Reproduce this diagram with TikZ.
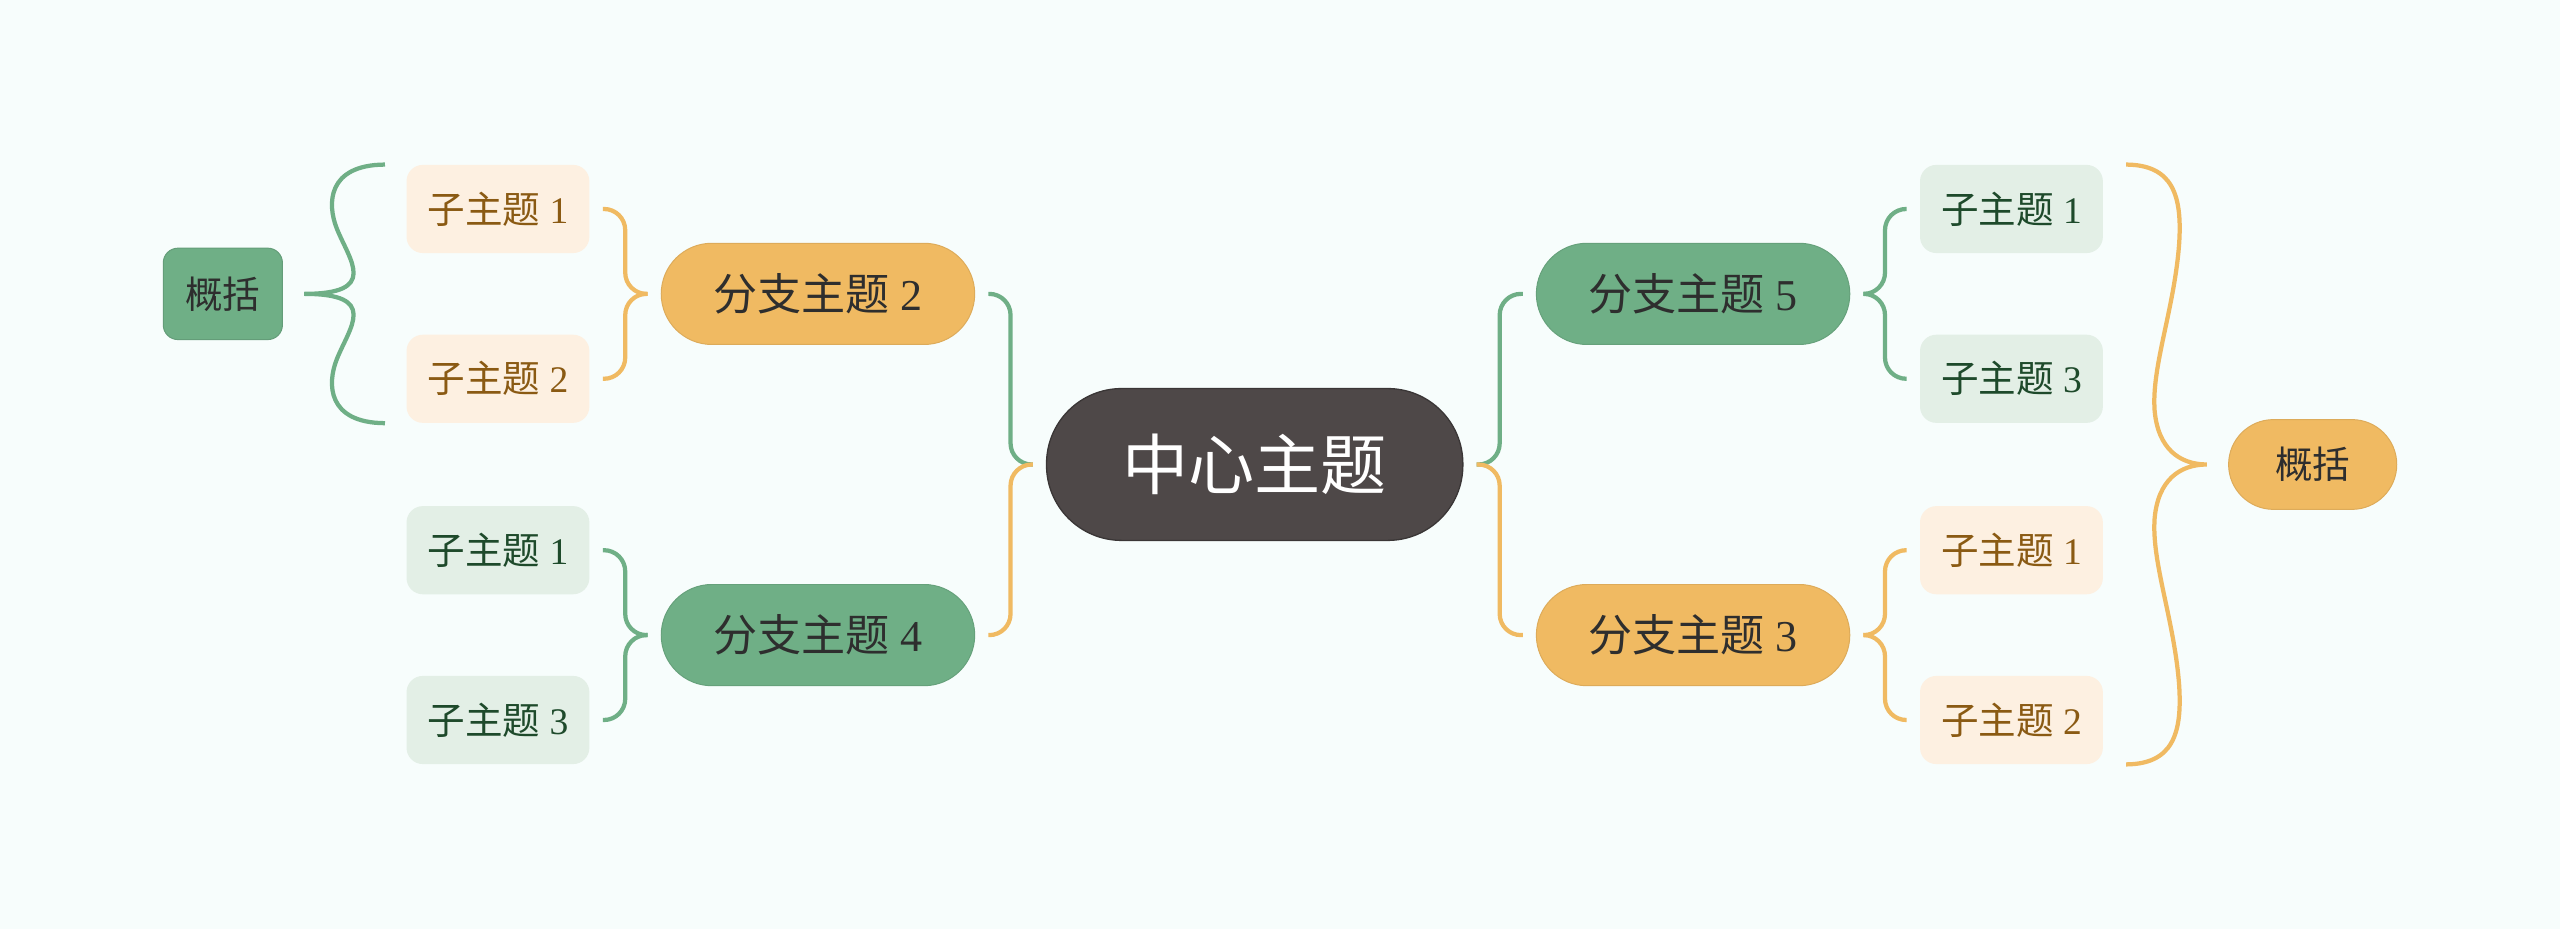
\documentclass[tikz,border=0pt]{standalone}
\usepackage{fontspec}
\setmainfont{Liberation Serif}
\newfontfamily\cjk{Noto Sans CJK SC}
\usetikzlibrary{calc}
\definecolor{bgc}{HTML}{F7FDFC}
\definecolor{darkc}{HTML}{4E4848}
\definecolor{orc}{HTML}{F0BA62}
\definecolor{grc}{HTML}{6FAF86}
\definecolor{creamc}{HTML}{FDF0E1}
\definecolor{lgc}{HTML}{E3EFE6}
\definecolor{brownt}{HTML}{8A5A13}
\definecolor{greent}{HTML}{1E4A2B}
\definecolor{textc}{HTML}{2E2E2E}
\begin{document}
\begin{tikzpicture}[x=1pt,y=-1pt,
  central/.style={rectangle, rounded corners=46pt, minimum width=255pt, minimum height=93pt,
    fill=darkc, draw=darkc!75!black, line width=0.8pt, inner sep=0pt, text=white,
    font=\fontsize{40.5}{44}\selectfont\cjk},
  branch/.style={rectangle, rounded corners=31pt, minimum width=192pt, minimum height=62pt,
    inner sep=0pt, text=textc, font=\fontsize{27}{31}\selectfont, line width=0.6pt},
  ob/.style={branch, fill=orc, draw=orc!92!black},
  gb/.style={branch, fill=grc, draw=grc!92!black},
  sub/.style={rectangle, rounded corners=10pt, minimum width=112pt, minimum height=54pt,
    inner sep=0pt, font=\fontsize{23}{27}\selectfont},
  cs/.style={sub, fill=creamc, text=brownt},
  gs/.style={sub, fill=lgc, text=greent},
  sumg/.style={rectangle, rounded corners=9pt, minimum width=73pt, minimum height=56pt,
    inner sep=0pt, fill=grc, draw=grc!90!black, line width=0.6pt, text=textc,
    font=\fontsize{23}{27}\selectfont\cjk},
  sumo/.style={rectangle, rounded corners=27.5pt, minimum width=103pt, minimum height=55pt,
    inner sep=0pt, fill=orc, draw=orc!92!black, line width=0.6pt, text=textc,
    font=\fontsize{23}{27}\selectfont\cjk},
  olink/.style={draw=orc, line width=2.6pt, rounded corners=13pt},
  glink/.style={draw=grc, line width=2.6pt, rounded corners=13pt},
  obrace/.style={draw=orc, line width=2.6pt},
  gbrace/.style={draw=grc, line width=2.6pt}
]
\fill[bgc] (0,0) rectangle (1568,569);
\useasboundingbox (0,0) rectangle (1568,569);

% nodes
\node[central] (c) at (768.5,284.5) {中心主题};
\node[ob] (b2) at (501,180) {{\cjk 分支主题} 2};
\node[gb] (b4) at (501,389) {{\cjk 分支主题} 4};
\node[gb] (b5) at (1037,180) {{\cjk 分支主题} 5};
\node[ob] (b3) at (1037,389) {{\cjk 分支主题} 3};

\node[cs] (l1) at (305,128) {{\cjk 子主题} 1};
\node[cs] (l2) at (305,232) {{\cjk 子主题} 2};
\node[gs] (l3) at (305,337) {{\cjk 子主题} 1};
\node[gs] (l4) at (305,441) {{\cjk 子主题} 3};

\node[gs] (r1) at (1232,128) {{\cjk 子主题} 1};
\node[gs] (r2) at (1232,232) {{\cjk 子主题} 3};
\node[cs] (r3) at (1232,337) {{\cjk 子主题} 1};
\node[cs] (r4) at (1232,441) {{\cjk 子主题} 2};

\node[sumg] (sL) at (136.5,180) {概括};
\node[sumo] (sR) at (1416.5,284.5) {概括};

% anchor points
\coordinate (cw) at ($(c.west)+(-8,0)$);
\coordinate (ce) at ($(c.east)+(8,0)$);
\coordinate (b2e) at ($(b2.east)+(8,0)$);
\coordinate (b4e) at ($(b4.east)+(8,0)$);
\coordinate (b2w) at ($(b2.west)+(-8,0)$);
\coordinate (b4w) at ($(b4.west)+(-8,0)$);
\coordinate (b5w) at ($(b5.west)+(-8,0)$);
\coordinate (b3w) at ($(b3.west)+(-8,0)$);
\coordinate (b5e) at ($(b5.east)+(8,0)$);
\coordinate (b3e) at ($(b3.east)+(8,0)$);
\coordinate (l1e) at ($(l1.east)+(8,0)$);
\coordinate (l2e) at ($(l2.east)+(8,0)$);
\coordinate (l3e) at ($(l3.east)+(8,0)$);
\coordinate (l4e) at ($(l4.east)+(8,0)$);
\coordinate (r1w) at ($(r1.west)+(-8,0)$);
\coordinate (r2w) at ($(r2.west)+(-8,0)$);
\coordinate (r3w) at ($(r3.west)+(-8,0)$);
\coordinate (r4w) at ($(r4.west)+(-8,0)$);

% central connectors
\draw[glink] (b2e) -| ($(b2e)!0.5!(cw)$) |- (cw);
\draw[olink] (b4e) -| ($(b4e)!0.5!(cw)$) |- (cw);
\draw[glink] (b5w) -| ($(b5w)!0.5!(ce)$) |- (ce);
\draw[olink] (b3w) -| ($(b3w)!0.5!(ce)$) |- (ce);

% sub connectors
\draw[olink] (l1e) -| ($(l1e)!0.5!(b2w)$) |- (b2w);
\draw[olink] (l2e) -| ($(l2e)!0.5!(b2w)$) |- (b2w);
\draw[glink] (l3e) -| ($(l3e)!0.5!(b4w)$) |- (b4w);
\draw[glink] (l4e) -| ($(l4e)!0.5!(b4w)$) |- (b4w);
\draw[glink] (r1w) -| ($(r1w)!0.5!(b5e)$) |- (b5e);
\draw[glink] (r2w) -| ($(r2w)!0.5!(b5e)$) |- (b5e);
\draw[olink] (r3w) -| ($(r3w)!0.5!(b3e)$) |- (b3e);
\draw[olink] (r4w) -| ($(r4w)!0.5!(b3e)$) |- (b3e);

% summary braces
\coordinate (nL) at ($(sL.east)+(13,0)$);
\coordinate (tLA) at ($(l1.north west)+(-13,0)$);
\coordinate (tLB) at ($(l2.south west)+(-13,0)$);
\draw[gbrace] (tLA) .. controls ($(nL)+(14,-79)$) and ($(nL)+(14,-55)$) .. ($(nL)+(20,-40)$)
  .. controls ($(nL)+(28,-20)$) and ($(nL)+(46,0)$) .. (nL)
  .. controls ($(nL)+(46,0)$) and ($(nL)+(28,20)$) .. ($(nL)+(20,40)$)
  .. controls ($(nL)+(14,55)$) and ($(nL)+(14,79)$) .. (tLB);

\coordinate (nR) at ($(sR.west)+(-13,0)$);
\coordinate (tRA) at ($(r1.north east)+(14,0)$);
\coordinate (tRB) at ($(r4.south east)+(14,0)$);
\draw[obrace] (tRA) .. controls ($(nR)+(-21,-183.5)$) and ($(nR)+(-15,-165)$) .. ($(nR)+(-17,-135)$)
  .. controls ($(nR)+(-20,-95)$) and ($(nR)+(-34,-60)$) .. ($(nR)+(-32,-33)$)
  .. controls ($(nR)+(-30,-10)$) and ($(nR)+(-17,0)$) .. (nR)
  .. controls ($(nR)+(-17,0)$) and ($(nR)+(-30,10)$) .. ($(nR)+(-32,33)$)
  .. controls ($(nR)+(-34,60)$) and ($(nR)+(-20,95)$) .. ($(nR)+(-17,135)$)
  .. controls ($(nR)+(-15,165)$) and ($(nR)+(-21,183.5)$) .. (tRB);
\end{tikzpicture}
\end{document}
